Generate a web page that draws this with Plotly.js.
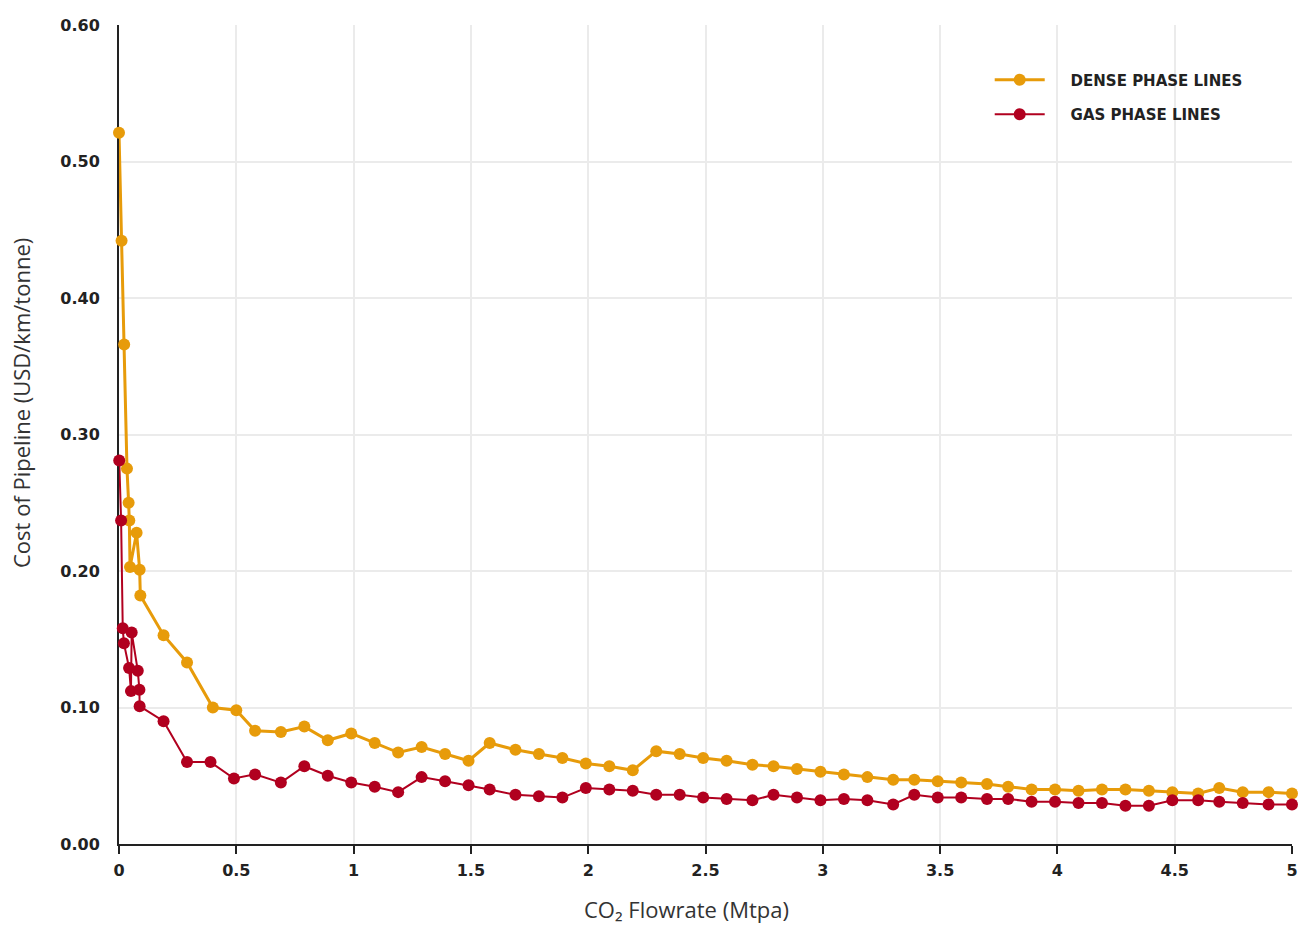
<!DOCTYPE html>
<html>
<head>
<meta charset="utf-8">
<script src="https://cdn.plot.ly/plotly-3.0.1.min.js"></script>
<style>
  html, body { margin: 0; padding: 0; background: #ffffff; }
  #chart { width: 1301px; height: 925px; }
</style>
</head>
<body>
<div id="chart"></div>
<script>
// ---- Data ----
const denseX = [0, 0.011, 0.022, 0.034, 0.041, 0.044, 0.047, 0.075, 0.088, 0.091,
  0.19, 0.29, 0.40, 0.50, 0.58, 0.69, 0.79, 0.89, 0.99, 1.09, 1.19, 1.29, 1.39, 1.49, 1.58,
  1.69, 1.79, 1.89, 1.99, 2.09, 2.19, 2.29, 2.39, 2.49, 2.59, 2.70, 2.79, 2.89, 2.99, 3.09,
  3.19, 3.30, 3.39, 3.49, 3.59, 3.70, 3.79, 3.89, 3.99, 4.09, 4.19, 4.29, 4.39, 4.49, 4.60,
  4.69, 4.79, 4.90, 5.00];
const denseY = [0.521, 0.442, 0.366, 0.275, 0.250, 0.237, 0.203, 0.228, 0.201, 0.182,
  0.153, 0.133, 0.100, 0.098, 0.083, 0.082, 0.086, 0.076, 0.081, 0.074, 0.067, 0.071, 0.066, 0.061, 0.074,
  0.069, 0.066, 0.063, 0.059, 0.057, 0.054, 0.068, 0.066, 0.063, 0.061, 0.058, 0.057, 0.055, 0.053, 0.051,
  0.049, 0.047, 0.047, 0.046, 0.045, 0.044, 0.042, 0.040, 0.040, 0.039, 0.040, 0.040, 0.039, 0.038, 0.037,
  0.041, 0.038, 0.038, 0.037];

const gasX = [0.001, 0.009, 0.016, 0.021, 0.043, 0.051, 0.054, 0.080, 0.087, 0.088,
  0.19, 0.29, 0.39, 0.49, 0.58, 0.69, 0.79, 0.89, 0.99, 1.09, 1.19, 1.29, 1.39, 1.49, 1.58,
  1.69, 1.79, 1.89, 1.99, 2.09, 2.19, 2.29, 2.39, 2.49, 2.59, 2.70, 2.79, 2.89, 2.99, 3.09,
  3.19, 3.30, 3.39, 3.49, 3.59, 3.70, 3.79, 3.89, 3.99, 4.09, 4.19, 4.29, 4.39, 4.49, 4.60,
  4.69, 4.79, 4.90, 5.00];
const gasY = [0.281, 0.237, 0.158, 0.147, 0.129, 0.112, 0.155, 0.127, 0.113, 0.101,
  0.090, 0.060, 0.060, 0.048, 0.051, 0.045, 0.057, 0.050, 0.045, 0.042, 0.038, 0.049, 0.046, 0.043, 0.040,
  0.036, 0.035, 0.034, 0.041, 0.040, 0.039, 0.036, 0.036, 0.034, 0.033, 0.032, 0.036, 0.034, 0.032, 0.033,
  0.032, 0.029, 0.036, 0.034, 0.034, 0.033, 0.033, 0.031, 0.031, 0.030, 0.030, 0.028, 0.028, 0.032, 0.032,
  0.031, 0.030, 0.029, 0.029];

const seriesNames = ["DENSE PHASE LINES", "GAS PHASE LINES"];
const xTickVals = [0, 0.5, 1, 1.5, 2, 2.5, 3, 3.5, 4, 4.5, 5];
const xTickText = ["0", "0.5", "1", "1.5", "2", "2.5", "3", "3.5", "4", "4.5", "5"];
const yTickVals = [0, 0.1, 0.2, 0.3, 0.4, 0.5, 0.6];
const yTickText = ["0.00", "0.10", "0.20", "0.30", "0.40", "0.50", "0.60"];

const ORANGE = "#E79B0A";
const RED = "#B1001F";
const BOLD_FONT = "'DejaVu Sans', sans-serif";
const TITLE_FONT = "'Open Sans', 'DejaVu Sans', sans-serif";
const GAP = "\u00a0\u00a0\u00a0\u00a0";

const traces = [
  {
    x: denseX, y: denseY, name: GAP + seriesNames[0], type: "scatter", mode: "lines+markers",
    line: { color: ORANGE, width: 3 }, marker: { color: ORANGE, size: 12 },
    cliponaxis: false, legendgroup: "a"
  },
  {
    x: gasX, y: gasY, name: GAP + seriesNames[1], type: "scatter", mode: "lines+markers",
    line: { color: RED, width: 2 }, marker: { color: RED, size: 12 },
    cliponaxis: false, legendgroup: "b"
  }
];

const layout = {
  width: 1301, height: 925,
  margin: { l: 119, r: 9, t: 25, b: 81 },
  paper_bgcolor: "#ffffff", plot_bgcolor: "#ffffff",
  font: { family: TITLE_FONT, color: "#222222" },
  showlegend: true,
  legend: {
    x: 0.7423, y: 0.953, xanchor: "left", yanchor: "top",
    bgcolor: "rgba(0,0,0,0)",
    font: { family: BOLD_FONT, size: 15, color: "#222222", weight: "bold" },
    itemwidth: 50, traceorder: "grouped", tracegroupgap: 12
  },
  xaxis: {
    range: [0, 5], tickmode: "array", tickvals: xTickVals, ticktext: xTickText,
    showgrid: true, gridcolor: "#ebebeb", gridwidth: 2,
    zeroline: false, showline: true, linecolor: "#222222", linewidth: 2,
    ticks: "outside", ticklen: 8, tickwidth: 2, tickcolor: "#222222",
    ticklabelstandoff: 3,
    tickfont: { family: BOLD_FONT, size: 16, color: "#222222", weight: "bold" },
    layer: "below traces"
  },
  yaxis: {
    range: [0, 0.6], tickmode: "array", tickvals: yTickVals, ticktext: yTickText,
    showgrid: true, gridcolor: "#ebebeb", gridwidth: 2,
    zeroline: false, showline: true, linecolor: "#222222", linewidth: 2,
    ticks: "", ticklabelstandoff: 14,
    tickfont: { family: BOLD_FONT, size: 16, color: "#222222", weight: "bold" },
    layer: "below traces"
  },
  annotations: [
    {
      text: "Cost of Pipeline (USD/km/tonne)", textangle: -90,
      xref: "paper", yref: "paper", x: (21 - 119) / 1173, y: (844 - 403) / 819,
      xanchor: "center", yanchor: "middle", showarrow: false,
      font: { family: TITLE_FONT, size: 22, color: "#333333" }
    },
    {
      text: "CO\u2082 Flowrate (Mtpa)",
      xref: "paper", yref: "paper", x: (686 - 119) / 1173, y: (844 - 909) / 819,
      xanchor: "center", yanchor: "middle", showarrow: false,
      font: { family: TITLE_FONT, size: 22, color: "#333333" }
    }
  ]
};

Plotly.newPlot("chart", traces, layout, { displayModeBar: false, responsive: false });
</script>
</body>
</html>
